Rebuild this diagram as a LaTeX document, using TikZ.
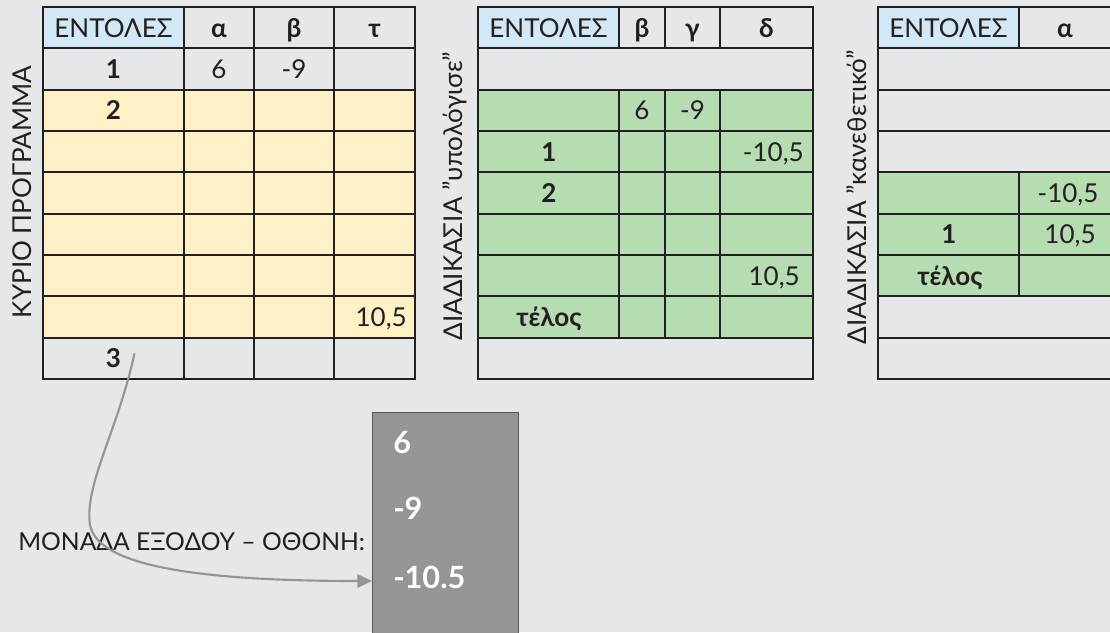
\documentclass[tikz,border=0pt]{standalone}
\usepackage{fontspec}
\setmainfont{Lato}
\usetikzlibrary{arrows.meta}
\definecolor{bgc}{HTML}{E6E7E8}
\definecolor{ink}{HTML}{231F20}
\definecolor{hdrblue}{HTML}{D2E8F6}
\definecolor{yelc}{HTML}{FFF1C6}
\definecolor{grnc}{HTML}{B6DCB1}
\definecolor{scrc}{HTML}{939598}
\definecolor{scredge}{HTML}{58595B}
\newcommand\csz{\fontsize{19.5}{23}\selectfont}
\newcommand\osz{\fontsize{18.5}{22}\selectfont}
\newcommand\ssz{\fontsize{23}{27}\selectfont}
\begin{document}
\begin{tikzpicture}[x=0.75pt,y=-0.75pt,
  gridline/.style={line width=1.3pt, draw=ink, line cap=rect},
  cell/.style={inner sep=0pt, text height=14pt, text depth=0pt, font=\csz, text=ink},
  bcell/.style={cell, font=\csz\bfseries},
  rcell/.style={cell, anchor=east},
  side/.style={inner sep=0pt, font=\csz, text=ink, rotate=90},
  scrtext/.style={inner sep=0pt, text height=16.5pt, text depth=0pt, font=\ssz\bfseries, text=white, anchor=west},
  arr/.style={draw=scrc, line width=1.6pt, -{Triangle[length=11pt,width=10pt]}}]
\useasboundingbox (0,0) rectangle (1110,632);
\clip (0,0) rectangle (1110,632);
\fill[bgc] (0,0) rectangle (1110,632);

% ---------- fills ----------
% table 1
\fill[hdrblue] (43,7) rectangle (184,48.33);
\fill[yelc] (43,89.67) rectangle (415,337.67);
% table 2
\fill[hdrblue] (478,7) rectangle (619,48.33);
\fill[grnc] (478,89.67) rectangle (813,337.67);
% table 3
\fill[hdrblue] (878,7) rectangle (1019,48.33);
\fill[grnc] (878,172.33) rectangle (1130,296.33);

% ---------- grid lines ----------
% table 1
\foreach \yy in {48.33,89.67,131,172.33,213.67,255,296.33,337.67}
  \draw[gridline] (43,\yy) -- (415,\yy);
\foreach \xx in {184,254,334}
  \draw[gridline] (\xx,7) -- (\xx,379);
\draw[gridline] (43,7) rectangle (415,379);
% table 2
\foreach \yy in {48.33,89.67,131,172.33,213.67,255,296.33,337.67}
  \draw[gridline] (478,\yy) -- (813,\yy);
\foreach \xx in {619,665,720}{
  \draw[gridline] (\xx,7) -- (\xx,48.33);
  \draw[gridline] (\xx,89.67) -- (\xx,337.67);}
\draw[gridline] (478,7) rectangle (813,379);
% table 3
\foreach \yy in {48.33,89.67,131,172.33,213.67,255,296.33,337.67}
  \draw[gridline] (878,\yy) -- (1130,\yy);
\draw[gridline] (1019,7) -- (1019,48.33);
\draw[gridline] (1019,172.33) -- (1019,296.33);
\draw[gridline] (878,7) -- (1130,7);
\draw[gridline] (878,379) -- (1130,379);
\draw[gridline] (878,7) -- (878,379);

% ---------- table 1 texts ----------
\node[side] (lab1) at (22,192) {ΚΥΡΙΟ ΠΡΟΓΡΑΜΜΑ};
\node[cell] (h1a) at (113.5,27.67) {ΕΝΤΟΛΕΣ};
\node[bcell] (h1b) at (219,27.67) {α};
\node[bcell] (h1c) at (294,27.67) {β};
\node[bcell] (h1d) at (374.5,27.67) {τ};
\node[bcell] (t1r1) at (113.5,69) {1};
\node[cell] (t1r1a) at (219,69) {6};
\node[cell] (t1r1b) at (294,69) {-9};
\node[bcell] (t1r2) at (113.5,110.33) {2};
\node[rcell] (t1r7) at (407,317) {10,5};
\node[bcell] (n3) at (113.5,358.33) {3};

% ---------- table 2 texts ----------
\node[side] (lab2) at (455,196) {ΔΙΑΔΙΚΑΣΙΑ \symbol{34}υπολόγισε\symbol{34}};
\node[cell] (h2a) at (548.5,27.67) {ΕΝΤΟΛΕΣ};
\node[bcell] (h2b) at (642,27.67) {β};
\node[bcell] (h2c) at (692.5,27.67) {γ};
\node[bcell] (h2d) at (766.5,27.67) {δ};
\node[cell] (t2r2b) at (642,110.33) {6};
\node[cell] (t2r2c) at (692.5,110.33) {-9};
\node[bcell] (t2r3) at (549,151.67) {1};
\node[rcell] (t2r3d) at (804,151.67) {-10,5};
\node[bcell] (t2r4) at (549,193) {2};
\node[rcell] (t2r6d) at (800,275.67) {10,5};
\node[bcell] (t2r7) at (549,317) {τέλος};

% ---------- table 3 texts ----------
\node[side] (lab3) at (857,197) {ΔΙΑΔΙΚΑΣΙΑ \symbol{34}κανεθετικό\symbol{34}};
\node[cell] (h3a) at (948.5,27.67) {ΕΝΤΟΛΕΣ};
\node[bcell] (h3b) at (1065,27.67) {α};
\node[cell] (t3r4) at (1068,193) {-10,5};
\node[bcell] (t3r5) at (949,234.33) {1};
\node[cell] (t3r5a) at (1070,234.33) {10,5};
\node[bcell] (t3r6) at (950,275.67) {τέλος};

% ---------- output ----------
\node[inner sep=0pt, font=\osz, text=ink, anchor=west] (outlab) at (18,542) {ΜΟΝΑΔΑ ΕΞΟΔΟΥ – ΟΘΟΝΗ:};
\node[draw=scredge, line width=0.8pt, fill=scrc, minimum width=146*0.75pt, minimum height=240*0.75pt, anchor=north west, inner sep=0pt] (scr) at (372,412) {};
\node[scrtext] (o1) at (393,442) {6};
\node[scrtext] (o2) at (393,508) {-9};
\node[scrtext] (o3) at (393,577) {-10.5};

\coordinate (arrstart) at ([shift={(21,-5)}]n3.center);
\draw[arr] (arrstart) .. controls (118,430) and (84,485) .. (90,525)
  .. controls (97,560) and (170,581) .. (scr.west |- 0,581);
\end{tikzpicture}
\end{document}
